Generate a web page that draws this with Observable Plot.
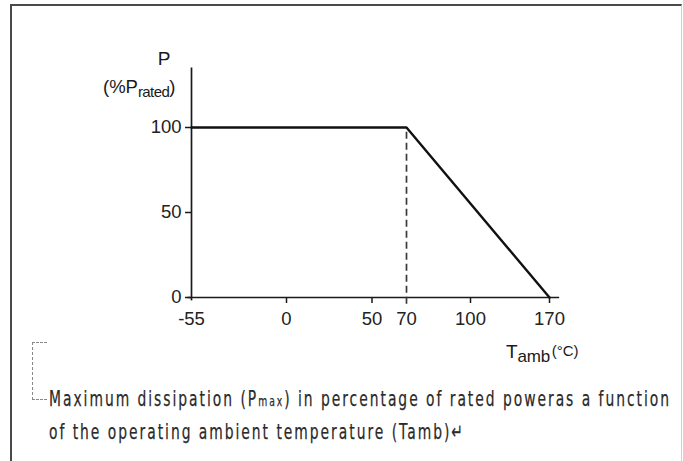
<!DOCTYPE html>
<html>
<head>
<meta charset="utf-8">
<script src="https://cdn.jsdelivr.net/npm/d3@7"></script>
<script src="https://cdn.jsdelivr.net/npm/@observablehq/plot@0.6"></script>
<style>
  html, body { margin: 0; padding: 0; background: #fff; }
  body { width: 683px; height: 461px; position: relative; overflow: hidden; }
  #frame { position: absolute; left: 10px; top: 4px; width: 669px; height: 480px;
           border-left: 2px solid #4a4a4a; border-top: 2px solid #4a4a4a; border-right: 1px solid #d0d0d0; }
  #chart { position: absolute; left: 0; top: 0; }
  #bracket { position: absolute; left: 32px; top: 342px; width: 14px; height: 56px;
             border-left: 1px dashed #888; border-top: 1px dashed #888; border-bottom: 1px dashed #888; border-right: none; }
  #caption { position: absolute; left: 49px; top: 384px; font-family: "DejaVu Sans", sans-serif;
             font-size: 21px; color: #2a2a2a; line-height: 31px; white-space: nowrap;
             -webkit-text-stroke: 0.25px #2a2a2a;
             transform: scaleX(0.66); transform-origin: 0 0; }
  #caption .small { font-size: 14px; }
</style>
</head>
<body>
<div id="frame"></div>
<div id="chart"></div>
<div id="bracket"></div>
<div id="caption">
  <div><span id="cap1">Maximum dissipation (P<span class="small">max</span>) in percentage of rated poweras a function</span></div>
  <div>of the operating ambient temperature (Tamb)↵</div>
</div>
<script>
// Data
const temps = [-55, 70, 170];          // ambient temperature (°C)
const power = [100, 100, 0];           // % of rated power
const kneeTemp = [70];                 // dashed marker
const xTicks = [-55, 0, 50, 70, 100, 170];
const yTicks = [0, 50, 100];
// The original drawing spaces the temperature ticks non-uniformly (piecewise axis)
const xTickSpots = [0, 95, 180.5, 215, 279, 358];
const xAxisExtent = [-57, 179];
const yAxisExtent = [-2, 135];

const rows = temps.map((t, i) => ({t, p: power[i]}));
const piecewise = d3.scaleLinear().domain(xTicks).range(xTickSpots);

const plot = Plot.plot({
  width: 683,
  height: 375,
  marginLeft: 191,
  marginRight: 134,
  marginTop: 127,
  marginBottom: 78,
  style: { fontFamily: "'Liberation Sans', Arial, sans-serif", fontSize: "18px", color: "#1a1a1a", background: "transparent" },
  x: { transform: piecewise, domain: [0, 358], axis: null, label: null },
  y: { domain: [0, 100], axis: null, label: null },
  marks: [
    Plot.ruleY([0], { x1: xAxisExtent[0], x2: xAxisExtent[1], stroke: "#1a1a1a", strokeWidth: 1.7 }),
    Plot.ruleX([-55], { y1: yAxisExtent[0], y2: yAxisExtent[1], stroke: "#1a1a1a", strokeWidth: 1.7 }),
    Plot.axisX(xTicks.filter(d => d !== 70 && d !== -55), { anchor: "bottom", label: null, tickSize: 6, tickPadding: 0, tickFormat: () => "", stroke: "#1a1a1a", strokeWidth: 1.5 }),
    Plot.axisX(xTicks, { anchor: "bottom", label: null, tickSize: 0, tickPadding: 14, tickFormat: d => String(d), fontSize: 18.5, fill: "#222" }),
    Plot.axisY(yTicks, { anchor: "left", label: null, tickSize: 6, tickPadding: 4, tickFormat: d => String(d), fontSize: 18.5, fill: "#222", stroke: "#1a1a1a", strokeWidth: 1.5 }),
    Plot.ruleX(kneeTemp, { y1: -4, y2: 100, stroke: "#3a3a3a", strokeWidth: 1.7, strokeDasharray: "7,4" }),
    Plot.line(rows, { x: "t", y: "p", stroke: "#111", strokeWidth: 2.4 })
  ]
});

const svg = d3.select(plot);
const ff = "'Liberation Sans', Arial, sans-serif";
svg.append("text").attr("x", 164).attr("y", 65).attr("text-anchor", "middle")
  .attr("font-family", ff).attr("font-size", 19).attr("fill", "#1a1a1a").text("P");
const yl = svg.append("text").attr("x", 103).attr("y", 93).attr("text-anchor", "start")
  .attr("font-family", ff).attr("font-size", 18.5).attr("fill", "#1a1a1a");
yl.append("tspan").text("(%P");
yl.append("tspan").attr("font-size", 15).attr("dy", 4).attr("letter-spacing", -0.6).text("rated");
yl.append("tspan").attr("dy", -4).text(")");
const xl = svg.append("text").attr("x", 506).attr("y", 358).attr("text-anchor", "start")
  .attr("font-family", ff).attr("font-size", 19).attr("fill", "#1a1a1a");
xl.append("tspan").text("T");
xl.append("tspan").attr("font-size", 17).attr("dy", 4).attr("letter-spacing", -0.3).text("amb");
xl.append("tspan").attr("font-size", 15).attr("dy", -6).attr("dx", 2).text("(°C)");

document.getElementById("chart").appendChild(plot);

// Spread the caption letters so that the first line spans the same width as in the original
const scale = 0.66;
const cap1 = document.getElementById("cap1");
const cap = document.getElementById("caption");
const natural = cap1.getBoundingClientRect().width / scale;
const chars = cap1.textContent.length;
const ls = (622 / scale - natural) / chars;
cap.style.letterSpacing = ls + "px";
</script>
</body>
</html>
